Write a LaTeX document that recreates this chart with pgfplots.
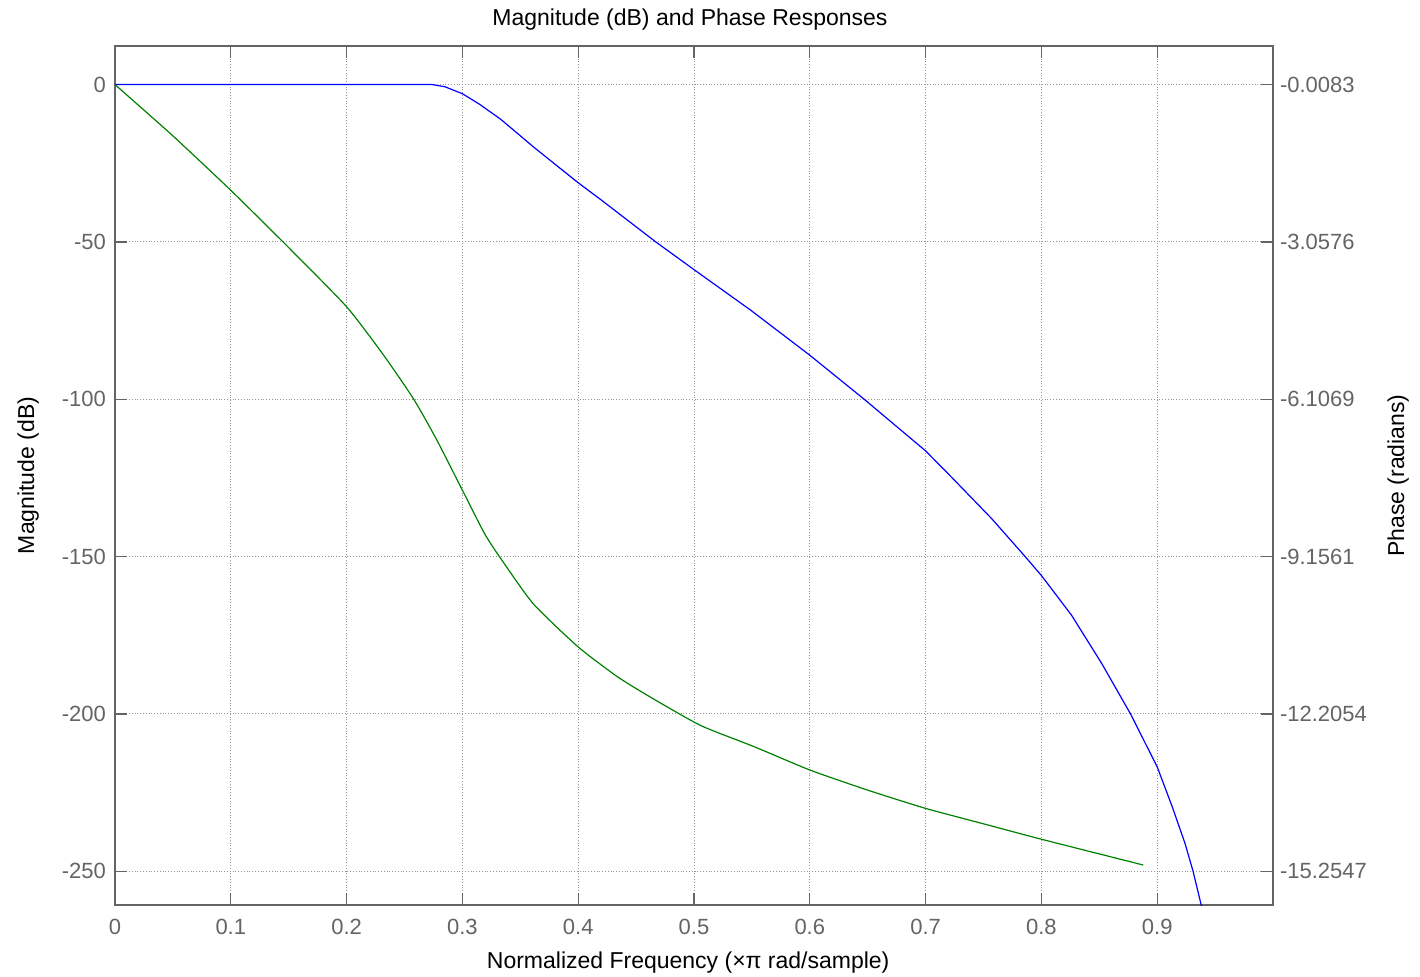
\documentclass[border=0pt]{standalone}
\usepackage{fontspec}
\setmainfont{Liberation Sans}
\usepackage{pgfplots}
\usepackage{pgfplotstable}
\pgfplotsset{compat=1.18}
\usetikzlibrary{calc}

\definecolor{axgray}{RGB}{100,100,100}
\definecolor{gridgray}{RGB}{150,150,150}
\definecolor{magblue}{RGB}{0,0,255}
\definecolor{phgreen}{RGB}{0,128,0}

% magnitude (dB)
\pgfplotstableread{
w      mag
0.000    0.0
0.274    0.0
0.285   -0.7
0.300   -2.9
0.315   -6.3
0.333  -11.0
0.362  -20.0
0.400  -31.2
0.420  -36.7
0.467  -50.0
0.500  -58.8
0.549  -71.7
0.600  -86.0
0.647 -100.0
0.700 -116.4
0.722 -124.6
0.757 -137.9
0.786 -150.0
0.800 -156.0
0.826 -168.6
0.852 -183.9
0.877 -200.0
0.900 -216.8
0.913 -229.5
0.924 -241.1
0.931 -250.0
0.938 -260.7
0.945 -272.0
}\magdata

% phase (radians)
\pgfplotstableread{
w      ph
0.000   -0.0083
0.050   -1.0024
0.100   -2.0574
0.150   -3.1674
0.200   -4.3139
0.232   -5.2531
0.258   -6.1069
0.278   -6.8997
0.300   -7.8693
0.319   -8.7048
0.332   -9.1562
0.361  -10.0649
0.400  -10.9065
0.434  -11.4858
0.464  -11.9006
0.506  -12.4311
0.552  -12.8397
0.600  -13.2910
0.650  -13.6813
0.700  -14.0351
0.751  -14.3400
0.800  -14.6327
0.888  -15.1328
}\phdata

\pgfplotsset{
  respstyle/.style={
    scale only axis, width=579pt, height=429.5pt,
    xmin=0, xmax=1,
    tick align=inside,
    major tick length=6pt,
    every tick/.style={axgray, line width=0.6pt},
    axis line style={axgray, line width=0.6pt},
    tick label style={font=\fontsize{11}{13}\selectfont, color=axgray},
    /pgf/number format/assume math mode=true,
    label style={font=\fontsize{11.5}{14}\selectfont},
  },
}

\begin{document}
\begin{tikzpicture}
\begin{axis}[respstyle, name=mag,
  ymin=-260.7, ymax=12.26,
  xtick={0,0.1,0.2,0.3,0.4,0.5,0.6,0.7,0.8,0.9},
  xticklabels={0,0.1,0.2,0.3,0.4,0.5,0.6,0.7,0.8,0.9},
  ytick={-250,-200,-150,-100,-50,0},
  xtick pos=both, ytick pos=left,
  xticklabel style={yshift=-3.5pt},
  yticklabel style={xshift=-1pt},
  grid=major, grid style={densely dotted, gridgray, line width=0.5pt},
  title={Magnitude (dB) and Phase Responses},
  title style={at={(axis description cs:0.4965,1.0165)}, anchor=center,
    font=\fontsize{11.5}{14}\selectfont},
  xlabel={Normalized Frequency (×π rad/sample)},
  xlabel style={at={(axis description cs:0.495,-0.0675)}, anchor=center},
  ylabel={Magnitude (dB)},
  ylabel style={at={(axis description cs:-0.075,0.5)}, anchor=center},
]
\addplot[magblue, line width=0.6pt] table[x=w, y=mag] {\magdata};
\end{axis}
\begin{axis}[respstyle,
  ymin=-15.9073, ymax=0.7394,
  axis x line=none, axis y line*=right,
  ytick={-15.2547,-12.2054,-9.1561,-6.1069,-3.0576,-0.0083},
  yticklabels={-15.2547,-12.2054,-9.1561,-6.1069,-3.0576,-0.0083},
  ylabel={Phase (radians)},
  ylabel style={at={(axis description cs:1.108,0.5)}, anchor=center},
]
\addplot[phgreen, line width=0.6pt, smooth, tension=0.35] table[x=w, y=ph] {\phdata};
\end{axis}
\pgfresetboundingbox
\path ($(mag.south west)+(-57.5pt,-35.5pt)$) rectangle ($(mag.north east)+(73.5pt,23pt)$);
\end{tikzpicture}
\end{document}
